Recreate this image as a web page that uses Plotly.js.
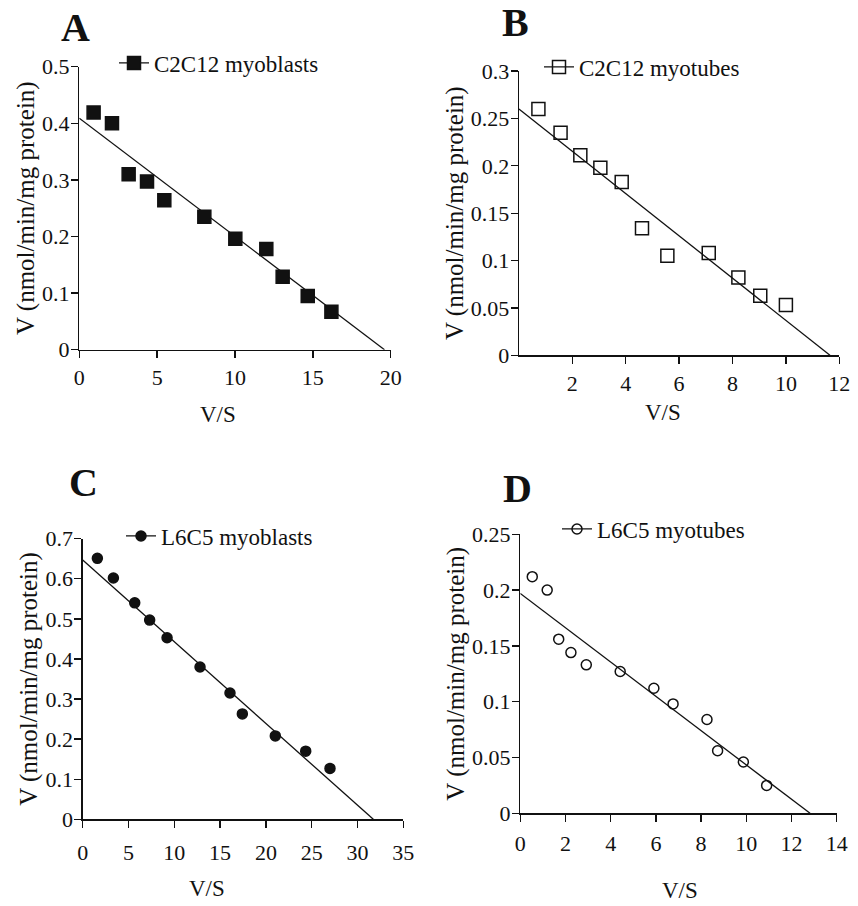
<!DOCTYPE html>
<html>
<head>
<meta charset="utf-8">
<script src="https://cdn.plot.ly/plotly-3.0.1.min.js"></script>
<style>
  html, body { margin: 0; padding: 0; background: #fff; }
  #chart { width: 858px; height: 906px; }
</style>
</head>
<body>
<div id="chart"></div>
<script>
// Eadie-Hofstee plots: V against V/S for four cell preparations

// A: C2C12 myoblasts
const vsA = [0.92, 2.10, 3.17, 4.35, 5.46, 8.03, 10.02, 12.01, 13.06, 14.67, 16.19];
const vA  = [0.419, 0.400, 0.310, 0.297, 0.264, 0.235, 0.196, 0.178, 0.129, 0.095, 0.067];
const fitVsA = [0, 19.6];
const fitVA  = [0.409, 0];

// B: C2C12 myotubes
const vsB = [0.73, 1.56, 2.30, 3.05, 3.85, 4.61, 5.56, 7.11, 8.22, 9.04, 10.0];
const vB  = [0.260, 0.235, 0.211, 0.198, 0.183, 0.134, 0.105, 0.108, 0.082, 0.063, 0.053];
const fitVsB = [0, 11.65];
const fitVB  = [0.260, 0];

// C: L6C5 myoblasts
const vsC = [1.60, 3.35, 5.68, 7.31, 9.21, 12.81, 16.08, 17.43, 21.03, 24.35, 27.0];
const vC  = [0.651, 0.602, 0.540, 0.497, 0.453, 0.380, 0.315, 0.263, 0.208, 0.170, 0.127];
const fitVsC = [0, 31.73];
const fitVC  = [0.647, 0];

// D: L6C5 myotubes
const vsD = [0.53, 1.19, 1.70, 2.24, 2.92, 4.42, 5.91, 6.76, 8.26, 8.73, 9.87, 10.90];
const vD  = [0.212, 0.200, 0.156, 0.144, 0.133, 0.127, 0.112, 0.098, 0.084, 0.056, 0.046, 0.025];
const fitVsD = [0, 12.82];
const fitVD  = [0.197, 0];

const seriesNames = ['C2C12 myoblasts', 'C2C12 myotubes', 'L6C5 myoblasts', 'L6C5 myotubes'];
const panelLetters = ['A', 'B', 'C', 'D'];
const xTitle = 'V/S';
const yTitle = 'V (nmol/min/mg protein)';

const FONT = 'Liberation Serif, Times New Roman, serif';
const INK = '#111';

const panels = [
  { vs: vsA, v: vA, fx: fitVsA, fy: fitVA, symbol: 'square', size: 13 },
  { vs: vsB, v: vB, fx: fitVsB, fy: fitVB, symbol: 'square-open', size: 13 },
  { vs: vsC, v: vC, fx: fitVsC, fy: fitVC, symbol: 'circle', size: 10 },
  { vs: vsD, v: vD, fx: fitVsD, fy: fitVD, symbol: 'circle-open', size: 10 }
];

const traces = [];
panels.forEach((p, i) => {
  const ax = i === 0 ? '' : String(i + 1);
  const lg = i === 0 ? 'legend' : 'legend' + (i + 1);
  const marker = { symbol: p.symbol, size: p.size, color: INK, line: { color: INK, width: 1.5 } };
  traces.push({
    x: p.fx, y: p.fy, xaxis: 'x' + ax, yaxis: 'y' + ax,
    mode: 'lines', line: { color: INK, width: 1.3 },
    showlegend: false, hoverinfo: 'skip'
  });
  traces.push({
    x: p.vs, y: p.v, xaxis: 'x' + ax, yaxis: 'y' + ax,
    mode: 'markers', marker: marker, showlegend: false
  });
  // legend key: line with marker
  traces.push({
    x: [null], y: [null], xaxis: 'x' + ax, yaxis: 'y' + ax,
    mode: 'lines+markers', name: seriesNames[i], legend: lg,
    line: { color: INK, width: 1.3 }, marker: marker, showlegend: true
  });
});

function xAxis(domain, range, tickvals, anchor, standoff) {
  return {
    domain: domain, range: range, tickvals: tickvals, anchor: anchor,
    showgrid: false, zeroline: false, showline: true, linecolor: INK, linewidth: 1.3,
    ticks: 'outside', ticklen: 7, tickwidth: 1.3, tickcolor: INK,
    ticklabelstandoff: standoff,
    tickfont: { family: FONT, size: 22, color: INK },
    fixedrange: true
  };
}
function yAxis(domain, range, dtick, anchor) {
  return {
    domain: domain, range: range, dtick: dtick, tick0: 0, anchor: anchor,
    showgrid: false, zeroline: false, showline: true, linecolor: INK, linewidth: 1.3,
    ticks: 'outside', ticklen: 7, tickwidth: 1.3, tickcolor: INK,
    ticklabelstandoff: -3,
    tickfont: { family: FONT, size: 22, color: INK },
    title: { text: yTitle, font: { family: FONT, size: 25, color: INK }, standoff: 0 },
    fixedrange: true
  };
}
function legendAt(x, y) {
  return {
    x: x, y: y, xanchor: 'left', yanchor: 'middle', xref: 'paper', yref: 'paper',
    bgcolor: 'rgba(0,0,0,0)', borderwidth: 0,
    font: { family: FONT, size: 23, color: INK }
  };
}

const letterAnn = [
  [75, 27], [515, 22], [83, 483], [517, 488]
].map((pos, i) => ({
  text: panelLetters[i], xref: 'paper', yref: 'paper',
  x: pos[0] / 858, y: 1 - pos[1] / 906, xanchor: 'center', yanchor: 'middle',
  showarrow: false, font: { family: FONT, size: 40, color: INK, weight: 'bold' }
}));

// x-axis titles sit a little left of the axis centre
const xTitleAnn = [
  [218, 414], [663, 412], [207, 888], [680, 890]
].map(pos => ({
  text: xTitle, xref: 'paper', yref: 'paper',
  x: pos[0] / 858, y: 1 - pos[1] / 906, xanchor: 'center', yanchor: 'middle',
  showarrow: false, font: { family: FONT, size: 23, color: INK }
}));

const layout = {
  width: 858, height: 906,
  margin: { l: 0, r: 0, t: 0, b: 0 },
  paper_bgcolor: '#fff', plot_bgcolor: '#fff',
  font: { family: FONT, color: INK },
  xaxis:  xAxis([0.0924, 0.4554], [0, 20], [0, 5, 10, 15, 20], 'y', 1),
  yaxis:  yAxis([0.614, 0.9264], [0, 0.5], 0.1, 'x'),
  xaxis2: xAxis([0.6048, 0.9782], [0, 12], [2, 4, 6, 8, 10, 12], 'y2', 1),
  yaxis2: yAxis([0.6078, 0.9216], [0, 0.3], 0.05, 'x2'),
  xaxis3: xAxis([0.0964, 0.470], [0, 35], [0, 5, 10, 15, 20, 25, 30, 35], 'y3', 6),
  yaxis3: yAxis([0.0957, 0.4054], [0, 0.7], 0.1, 'x3'),
  xaxis4: xAxis([0.6064, 0.9752], [0, 14], [0, 2, 4, 6, 8, 10, 12, 14], 'y4', 3),
  yaxis4: yAxis([0.1023, 0.4103], [0, 0.25], 0.05, 'x4'),
  legend:  legendAt(114 / 858, 1 - 63 / 906),
  legend2: legendAt(539 / 858, 1 - 67 / 906),
  legend3: legendAt(121 / 858, 1 - 536 / 906),
  legend4: legendAt(557 / 858, 1 - 529 / 906),
  annotations: letterAnn.concat(xTitleAnn),
  showlegend: true
};

Plotly.newPlot('chart', traces, layout, { displayModeBar: false, staticPlot: true });
</script>
</body>
</html>
